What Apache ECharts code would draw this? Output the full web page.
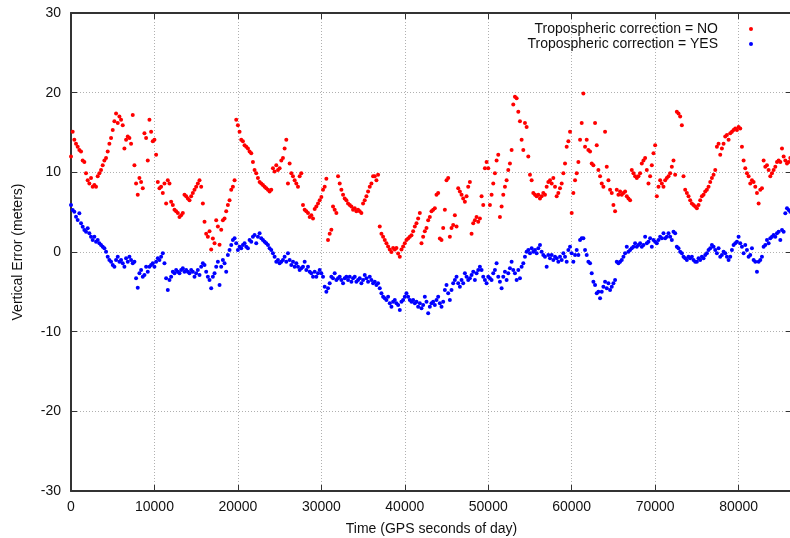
<!DOCTYPE html>
<html>
<head>
<meta charset="utf-8">
<script src="https://cdn.jsdelivr.net/npm/echarts@6/dist/echarts.min.js"></script>
<style>
  html, body { margin: 0; padding: 0; background: #fff; }
  #chart { width: 790px; height: 538px; }
</style>
</head>
<body>
<div id="chart"></div>
<script>
// epochs are every 200 s from 0 (GPS seconds of day)
const STEP = 200;

// vertical error without tropospheric correction (m)
const errNoTropo = [
  12.0,15.1,14.1,13.6,13.2,12.8,12.6,11.5,11.3,9.9,
  9.0,8.6,9.3,8.2,8.4,8.2,9.5,9.9,10.3,10.9,
  11.5,11.8,12.6,13.6,14.3,15.3,16.4,17.4,16.2,17.0,
  16.6,15.9,13.0,14.1,14.5,14.3,13.6,17.2,10.9,8.6,
  7.2,9.3,8.8,8.0,14.9,14.3,11.5,16.6,15.1,13.9,
  14.1,12.2,8.8,8.0,8.2,7.4,8.6,6.1,9.0,8.6,
  6.3,5.9,5.3,5.1,4.9,4.4,4.6,4.9,7.2,7.0,
  6.7,6.5,7.0,7.4,7.8,8.2,8.6,9.0,8.2,6.1,
  3.8,2.3,1.9,2.6,0.3,1.7,1.1,4.0,3.2,0.9,
  2.8,4.0,4.2,5.1,5.9,6.5,7.8,8.2,9.0,16.6,
  15.9,15.1,14.1,13.9,13.4,13.2,13.0,12.6,12.4,11.3,
  10.3,9.9,9.3,8.8,8.6,8.4,8.2,8.0,7.8,7.6,
  7.8,10.5,10.1,10.9,10.3,10.5,11.5,11.8,13.0,14.1,
  8.6,11.1,9.9,9.5,9.0,8.6,8.2,9.5,9.9,5.9,
  5.3,5.1,4.9,4.4,4.6,4.2,
  5.4,5.7,6.1,6.5,6.9,7.8,8.2,9.2,1.5,2.3,
  2.8,5.7,5.3,4.9,9.5,8.6,7.8,7.2,6.7,6.5,
  6.1,5.9,5.7,5.3,5.5,5.1,5.3,5.1,4.9,6.1,
  6.5,7.0,7.6,8.2,8.6,9.5,9.5,9.0,9.7,3.2,
  2.3,1.9,1.5,1.1,0.7,0.3,0.0,0.5,0.3,0.5,
  -0.2,-0.6,0.3,0.7,1.1,1.5,1.7,1.9,2.1,2.6,
  3.2,3.6,4.2,4.9,1.1,1.9,2.6,3.0,4.0,4.4,
  5.1,5.3,5.5,7.2,7.4,1.7,1.5,3.0,5.3,9.0,
  9.3,1.9,3.0,3.4,4.6,3.2,8.0,7.6,7.2,6.7,
  6.3,7.0,8.2,8.8,2.3,3.6,4.0,4.4,3.8,4.2,
  7.0,5.9,10.5,11.3,10.5,5.9,7.2,8.6,9.9,11.5,
  12.2,4.4,5.7,7.2,8.2,9.0,10.3,11.1,12.8,18.5,
  19.5,19.3,17.6,16.4,14.1,12.8,16.2,15.7,12.0,9.7,
  9.0,7.4,7.2,7.0,7.2,6.7,7.0,7.4,7.2,8.2,
  8.8,9.0,8.6,9.3,8.2,
  7.0,7.4,8.0,8.6,9.9,11.1,13.2,13.9,15.1,4.9,
  7.4,9.0,9.9,11.3,14.1,16.2,19.9,13.2,14.1,12.8,
  12.6,11.1,10.9,16.2,13.4,10.3,9.5,8.6,8.2,15.1,
  10.7,9.0,7.8,7.4,5.9,5.1,7.8,7.2,7.6,7.2,
  7.4,7.6,7.0,6.7,6.5,10.3,9.9,9.5,9.3,9.5,
  9.9,11.1,11.5,11.8,10.3,8.6,9.5,10.9,12.4,13.4,
  7.0,8.2,9.0,8.6,8.2,9.0,9.3,9.5,9.9,10.7,
  11.5,9.7,17.6,17.4,17.0,15.9,9.5,7.8,7.4,7.0,
  6.5,6.1,5.9,5.7,5.5,5.9,6.5,7.0,7.2,7.6,
  7.8,8.2,8.8,9.3,9.7,10.3,13.2,13.6,12.2,13.0,
  13.6,14.5,14.7,14.1,14.9,15.1,15.3,15.5,15.3,15.7,
  15.5,13.2,11.5,10.5,9.9,9.5,8.6,9.0,8.8,8.2,
  7.4,6.1,7.8,8.0,11.5,10.7,10.9,10.3,9.5,9.9,
  10.3,10.7,11.3,11.5,11.3,13.0,12.0,11.5,11.1,11.3,
  11.8
];

// vertical error with tropospheric correction (m)
const errTropo = [
  5.90,5.27,5.06,4.43,4.02,4.85,3.60,3.18,2.76,2.55,
  2.97,2.34,1.92,1.51,1.92,1.30,1.51,1.09,0.88,0.67,
  0.46,0.04,-0.59,-1.00,-1.21,-1.63,-1.84,-1.00,-0.59,-1.21,
  -1.00,-1.42,-1.84,-0.80,-1.21,-0.59,-1.00,-1.42,-1.21,-3.31,
  -4.5,-2.68,-2.26,-3.10,-2.89,-1.84,-2.47,-1.84,-1.63,-1.42,
  -1.84,-1.21,-0.80,-1.00,-0.59,-0.17,-1.42,-3.31,-4.77,-3.52,
  -3.10,-2.47,-2.68,-2.26,-2.47,-2.68,-2.26,-2.05,-2.47,-2.26,
  -2.47,-2.68,-2.26,-2.47,-3.10,-2.68,-2.26,-2.89,-1.84,-1.42,
  -1.63,-2.47,-3.10,-3.52,-4.56,-3.10,-2.68,-1.84,-1.21,-4.14,
  -1.84,-1.00,-1.42,-2.47,-0.38,0.25,0.88,1.51,1.72,1.09,
  0.25,0.67,0.46,0.88,1.09,0.67,0.46,1.51,1.30,1.92,
  2.13,1.09,1.92,2.34,1.72,1.51,1.30,1.09,0.88,0.46,
  0.25,-0.17,-0.59,-1.21,-1.00,-1.42,-1.21,-1.00,-0.59,-1.21,
  -0.17,-1.00,-1.63,-1.21,-1.84,-1.42,-1.84,-2.26,-2.05,-1.84,
  -1.21,-2.26,-1.84,-2.47,-2.68,-3.10,
  -2.47,-3.10,-2.68,-2.26,-2.68,-3.10,-4.35,-4.98,-4.56,-3.93,
  -3.10,-3.31,-2.68,-3.52,-3.31,-3.10,-3.52,-3.93,-3.31,-3.10,
  -3.52,-3.10,-3.72,-3.31,-3.10,-3.72,-3.52,-3.31,-3.93,-3.52,
  -2.89,-3.31,-3.72,-3.10,-3.52,-3.93,-3.72,-4.14,-3.93,-4.56,
  -5.19,-5.61,-5.82,-6.03,-5.61,-6.44,-6.86,-6.24,-6.03,-6.44,
  -6.65,-7.28,-6.24,-6.03,-5.61,-5.19,-5.61,-6.03,-6.24,-6.03,
  -6.44,-6.24,-6.86,-6.44,-7.07,-6.65,-5.61,-6.24,-7.70,-6.86,
  -6.44,-6.24,-6.65,-6.03,-5.61,-6.44,-6.86,-6.24,-4.77,-4.14,
  -5.19,-6.03,-4.77,-3.93,-3.52,-3.10,-3.93,-4.35,-3.52,-3.93,
  -2.68,-3.10,-3.52,-3.31,-2.89,-2.47,-3.52,-2.68,-2.26,-1.84,
  -2.26,-3.10,-3.52,-3.93,-3.10,-3.31,-3.52,-2.68,-2.26,-1.42,
  -3.10,-3.72,-4.56,-3.10,-2.47,-3.52,-2.68,-2.05,-1.21,-2.26,
  -2.68,-3.52,-2.26,-3.31,-1.84,-1.42,-0.59,0.04,0.25,-0.17,
  0.46,0.04,0.25,-0.17,0.46,0.88,0.04,-0.38,-0.59,-1.84,
  -0.38,-0.80,-0.38,-1.00,-0.59,
  -0.80,-1.21,-0.59,-1.00,-0.17,-0.59,-1.21,0.25,0.67,-0.17,
  -1.21,-0.38,0.25,-0.38,1.51,1.72,1.72,0.25,-0.38,-1.21,
  -1.42,-2.68,-3.72,-4.14,-5.19,-4.98,-5.82,-4.98,-4.35,-3.72,
  -4.56,-3.93,-4.77,-4.35,-3.93,-3.52,-1.21,-1.42,-1.21,-1.00,
  -0.59,-0.17,0.67,0.04,0.25,0.46,0.67,1.09,0.67,0.88,
  1.09,0.67,0.88,1.92,1.09,1.30,1.72,0.67,1.51,1.30,
  1.09,1.51,1.92,1.72,2.34,1.72,1.92,2.34,1.92,1.51,
  2.55,2.34,0.67,0.46,0.04,-0.17,-0.59,-0.80,-1.00,-0.59,
  -0.80,-0.59,-1.00,-1.21,-1.21,-0.80,-1.00,-0.59,-0.80,-0.38,
  -0.17,0.25,0.46,0.88,0.67,0.25,-0.17,0.46,-0.59,-0.38,
  0.04,-0.17,-0.59,-1.00,-0.59,0.25,0.88,1.09,1.30,1.92,
  1.09,0.67,-0.17,0.88,0.25,-0.59,-0.38,0.46,-1.00,-1.21,
  -2.47,-1.21,-1.00,-0.59,0.67,0.88,1.51,1.09,1.72,1.92,
  2.13,1.92,2.34,2.55,1.51,2.76,2.55,4.85,5.48,5.27,
  5.06
];

const seriesNames = ['Tropospheric correction = NO', 'Tropospheric correction = YES'];
const xTicks = [0, 10000, 20000, 30000, 40000, 50000, 60000, 70000, 80000];

const toPoints = (vals) => vals.map((v, i) => [i * STEP, v]);

const FONT = 'Liberation Sans';
const AXIS_COLOR = '#333';
const GRID_LINE = { color: '#b0b0b0', width: 1, type: [1, 2] };

const chart = echarts.init(document.getElementById('chart'), null, { renderer: 'canvas' });

const legendBase = {
  orient: 'vertical',
  right: 32,
  align: 'right',
  icon: 'circle',
  itemWidth: 56,
  itemHeight: 4,
  textStyle: { fontFamily: FONT, fontSize: 14, color: '#111' },
  selectedMode: false,
};

const frameAxis = {
  axisLine: { show: true, onZero: false, lineStyle: { color: AXIS_COLOR, width: 2 } },
  axisTick: { show: true, inside: true, length: 6, lineStyle: { color: AXIS_COLOR } },
};

const option = {
  animation: false,
  backgroundColor: '#fff',
  grid: { left: 71, right: -2, top: 13, bottom: 47, outerBoundsMode: 'none', containLabel: false },
  legend: [
    Object.assign({}, legendBase, { top: 17, data: [seriesNames[0]] }),
    Object.assign({}, legendBase, { top: 32, data: [seriesNames[1]] }),
  ],
  xAxis: [
    Object.assign({}, frameAxis, {
      type: 'value',
      min: 0,
      max: 86400,
      interval: 10000,
      name: 'Time (GPS seconds of day)',
      nameLocation: 'middle',
      nameGap: 31,
      nameTextStyle: { fontFamily: FONT, fontSize: 14, color: '#111' },
      axisLabel: {
        margin: 9, fontFamily: FONT, fontSize: 14, color: '#111',
        formatter: (v) => (xTicks.indexOf(v) >= 0 ? String(v) : ''),
      },
      splitLine: { show: true, lineStyle: GRID_LINE },
    }),
    Object.assign({}, frameAxis, {
      type: 'value',
      position: 'top',
      min: 0,
      max: 86400,
      interval: 10000,
      axisLabel: { show: false },
      splitLine: { show: false },
    }),
  ],
  yAxis: [
    Object.assign({}, frameAxis, {
      type: 'value',
      min: -30,
      max: 30,
      interval: 10,
      name: 'Vertical Error (meters)',
      nameLocation: 'middle',
      nameGap: 46,
      nameTextStyle: { fontFamily: FONT, fontSize: 14, color: '#111' },
      axisLabel: { margin: 10, fontFamily: FONT, fontSize: 14, color: '#111' },
      splitLine: { show: true, lineStyle: GRID_LINE },
    }),
    Object.assign({}, frameAxis, {
      type: 'value',
      position: 'right',
      min: -30,
      max: 30,
      interval: 10,
      axisLabel: { show: false },
      splitLine: { show: false },
    }),
  ],
  series: [
    {
      name: seriesNames[0],
      type: 'scatter',
      symbol: 'circle',
      symbolSize: 4,
      itemStyle: { color: '#ff0000', opacity: 1 },
      data: toPoints(errNoTropo),
    },
    {
      name: seriesNames[1],
      type: 'scatter',
      symbol: 'circle',
      symbolSize: 4,
      itemStyle: { color: '#0000ff', opacity: 1 },
      data: toPoints(errTropo),
    },
  ],
};

chart.setOption(option);
</script>
</body>
</html>
